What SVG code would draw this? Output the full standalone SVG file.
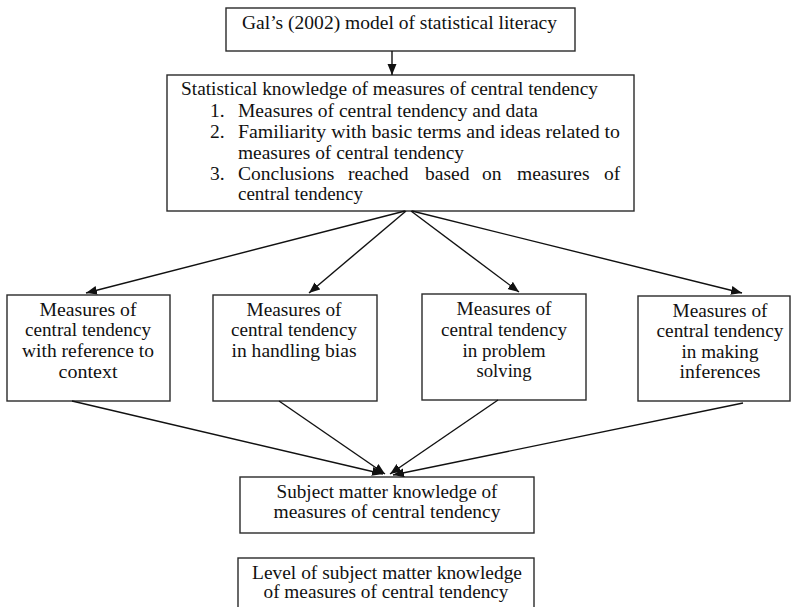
<svg xmlns="http://www.w3.org/2000/svg" width="794" height="607" viewBox="0 0 794 607">
  <style>
    .box { fill: #ffffff; stroke: #2a2a2a; stroke-width: 1.4; }
    .c { text-anchor: middle; }
    .edge { fill: none; stroke: #111111; stroke-width: 1.4; marker-end: url(#arrow); }
  </style>
  <defs>
    <marker id="arrow" markerUnits="userSpaceOnUse" markerWidth="12" markerHeight="10" refX="11" refY="4.5" orient="auto">
      <path d="M0,0 L11,4.5 L0,9 z" fill="#111111"/>
    </marker>
  </defs>
  <rect width="794" height="607" fill="#ffffff"/>

  <!-- every label uses the same serif face and size -->
  <g font-family="Liberation Serif, Times New Roman, serif" font-size="19.5" fill="#111111">

  <g id="node-gal">
    <rect class="box" x="226" y="8" width="349" height="43"/>
    <text class="c" x="399.5" y="29" textLength="315" lengthAdjust="spacingAndGlyphs">Gal’s (2002) model of statistical literacy</text>
  </g>

  <g id="node-statistical-knowledge">
    <rect class="box" x="167" y="75" width="467" height="136"/>
    <text x="181" y="95" textLength="417" lengthAdjust="spacingAndGlyphs">Statistical knowledge of measures of central tendency</text>
    <text x="210" y="117">1.</text>
    <text x="238" y="117" textLength="300" lengthAdjust="spacingAndGlyphs">Measures of central tendency and data</text>
    <text x="210" y="138">2.</text>
    <text x="238" y="138" textLength="382" lengthAdjust="spacingAndGlyphs">Familiarity with basic terms and ideas related to</text>
    <text x="238" y="159" textLength="226" lengthAdjust="spacingAndGlyphs">measures of central tendency</text>
    <text x="210" y="180">3.</text>
    <text y="180"><tspan x="238">Conclusions</tspan><tspan x="348">reached</tspan><tspan x="425">based</tspan><tspan x="482">on</tspan><tspan x="517">measures</tspan><tspan x="604">of</tspan></text>
    <text x="238" y="200" textLength="125" lengthAdjust="spacingAndGlyphs">central tendency</text>
  </g>

  <g id="node-context">
    <rect class="box" x="7" y="295" width="163" height="106"/>
    <text class="c" x="88" y="316" textLength="97" lengthAdjust="spacingAndGlyphs">Measures of</text>
    <text class="c" x="88" y="336" textLength="126" lengthAdjust="spacingAndGlyphs">central tendency</text>
    <text class="c" x="88" y="357" textLength="132" lengthAdjust="spacingAndGlyphs">with reference to</text>
    <text class="c" x="88" y="378" textLength="59" lengthAdjust="spacingAndGlyphs">context</text>
  </g>

  <g id="node-bias">
    <rect class="box" x="213" y="295" width="164" height="106"/>
    <text class="c" x="294" y="316" textLength="95" lengthAdjust="spacingAndGlyphs">Measures of</text>
    <text class="c" x="294" y="336" textLength="126" lengthAdjust="spacingAndGlyphs">central tendency</text>
    <text class="c" x="294" y="357" textLength="125" lengthAdjust="spacingAndGlyphs">in handling bias</text>
  </g>

  <g id="node-problem-solving">
    <rect class="box" x="422" y="294" width="164" height="106"/>
    <text class="c" x="504" y="315" textLength="95" lengthAdjust="spacingAndGlyphs">Measures of</text>
    <text class="c" x="504" y="336" textLength="126" lengthAdjust="spacingAndGlyphs">central tendency</text>
    <text class="c" x="504" y="357" textLength="83" lengthAdjust="spacingAndGlyphs">in problem</text>
    <text class="c" x="504" y="377" textLength="55" lengthAdjust="spacingAndGlyphs">solving</text>
  </g>

  <g id="node-inferences">
    <rect class="box" x="638" y="296" width="152" height="105"/>
    <text class="c" x="720" y="317" textLength="95" lengthAdjust="spacingAndGlyphs">Measures of</text>
    <text class="c" x="720" y="337" textLength="127" lengthAdjust="spacingAndGlyphs">central tendency</text>
    <text class="c" x="720" y="358" textLength="77" lengthAdjust="spacingAndGlyphs">in making</text>
    <text class="c" x="720" y="378" textLength="81" lengthAdjust="spacingAndGlyphs">inferences</text>
  </g>

  <g id="node-subject-matter">
    <rect class="box" x="240" y="477" width="294" height="56"/>
    <text class="c" x="387" y="498" textLength="221" lengthAdjust="spacingAndGlyphs">Subject matter knowledge of</text>
    <text class="c" x="387" y="518" textLength="227" lengthAdjust="spacingAndGlyphs">measures of central tendency</text>
  </g>

  <g id="node-level">
    <rect class="box" x="238" y="558" width="296" height="56"/>
    <text class="c" x="387" y="579" textLength="270" lengthAdjust="spacingAndGlyphs">Level of subject matter knowledge</text>
    <text class="c" x="386" y="598" textLength="245" lengthAdjust="spacingAndGlyphs">of measures of central tendency</text>
  </g>

  </g>

  <g id="connectors">
    <line class="edge" x1="392" y1="51" x2="392" y2="75"/>
    <line class="edge" x1="405" y1="211" x2="86" y2="293"/>
    <line class="edge" x1="406" y1="211" x2="309" y2="293"/>
    <line class="edge" x1="411" y1="211" x2="519" y2="292"/>
    <line class="edge" x1="412" y1="211" x2="742" y2="293"/>
    <line class="edge" x1="72" y1="401" x2="383" y2="474"/>
    <line class="edge" x1="279" y1="401" x2="385" y2="474"/>
    <line class="edge" x1="498" y1="400" x2="390" y2="474"/>
    <line class="edge" x1="743" y1="403" x2="393" y2="475"/>
  </g>
</svg>
